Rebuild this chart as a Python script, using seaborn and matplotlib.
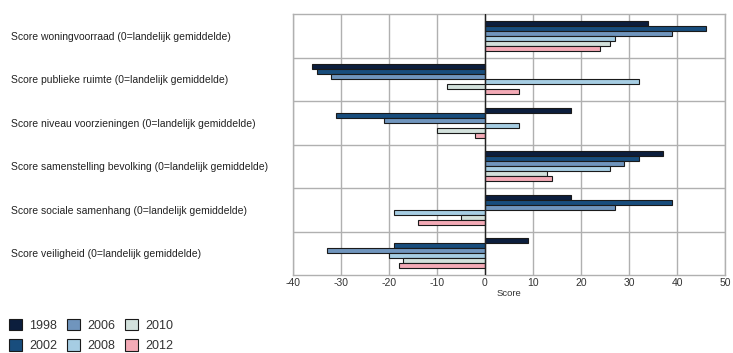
import pandas as pd
import numpy as np
import matplotlib.pyplot as plt
import seaborn as sns

# Data
categories = [
    'Score woningvoorraad (0=landelijk gemiddelde)',
    'Score publieke ruimte (0=landelijk gemiddelde)',
    'Score niveau voorzieningen (0=landelijk gemiddelde)',
    'Score samenstelling bevolking (0=landelijk gemiddelde)',
    'Score sociale samenhang (0=landelijk gemiddelde)',
    'Score veiligheid (0=landelijk gemiddelde)',
]
years = ['1998', '2002', '2006', '2008', '2010', '2012']
score_1998 = [34, -36, 18, 37, 18, 9]
score_2002 = [46, -35, -31, 32, 39, -19]
score_2006 = [39, -32, -21, 29, 27, -33]
score_2008 = [27, 32, 7, 26, -19, -20]
score_2010 = [26, -8, -10, 13, -5, -17]
score_2012 = [24, 7, -2, 14, -14, -18]
colors = ['#0c1e3d', '#184d7d', '#7095bd', '#a6cde3', '#d3e1dc', '#f3aab6']

series = [score_1998, score_2002, score_2006, score_2008, score_2010, score_2012]
df = pd.DataFrame({
    'categorie': categories * len(years),
    'jaar': np.repeat(years, len(categories)),
    'score': np.concatenate(series),
})

sns.set_style('white')
plt.rcParams['font.family'] = ['Liberation Sans', 'DejaVu Sans']

fig = plt.figure(figsize=(7.33, 3.53), dpi=100)
ax = fig.add_axes([293 / 733, 1 - 275 / 353, 432 / 733, 261 / 353])

sns.barplot(data=df, y='categorie', x='score', hue='jaar', order=categories,
            hue_order=years, palette=colors, saturation=1, orient='h', width=0.68,
            edgecolor='#1a1a1a', linewidth=0.8, ax=ax, legend=True)

ax.set_xlim(-40, 50)
ax.set_ylim(len(categories) - 0.5, -0.5)
ax.set_xticks(range(-40, 51, 10))
ax.set_xticklabels([str(t) for t in range(-40, 51, 10)], fontsize=7.5, color='#333333')
ax.set_yticks(range(len(categories)), minor=False)
ax.set_yticks(np.arange(0.5, len(categories) - 0.5, 1), minor=True)
ax.set_yticklabels(categories, fontsize=7.5, color='#222222', ha='left')
ax.tick_params(axis='y', which='both', length=0, pad=282 * 72 / 100)
ax.tick_params(axis='x', length=0, pad=2)
ax.set_ylabel('')
ax.set_xlabel('Score', fontsize=6.8, color='#333333', labelpad=1)

ax.grid(axis='x', color='#b0b0b0', linewidth=1)
ax.grid(axis='y', which='minor', color='#b0b0b0', linewidth=1)
ax.set_axisbelow(True)
ax.axvline(0, color='#222222', linewidth=1, zorder=3)
for s in ax.spines.values():
    s.set_color('#b0b0b0')
    s.set_linewidth(1)

handles, labels = ax.get_legend_handles_labels()
ax.get_legend().remove()
fig.legend(handles, labels, loc='lower left', bbox_to_anchor=(-0.003, -0.03),
           ncol=3, frameon=False, fontsize=9, handlelength=1.0, handleheight=1.0,
           handletextpad=0.6, columnspacing=0.8, labelspacing=0.6,
           labelcolor='#333333')

fig.savefig('out.png', dpi=100)
